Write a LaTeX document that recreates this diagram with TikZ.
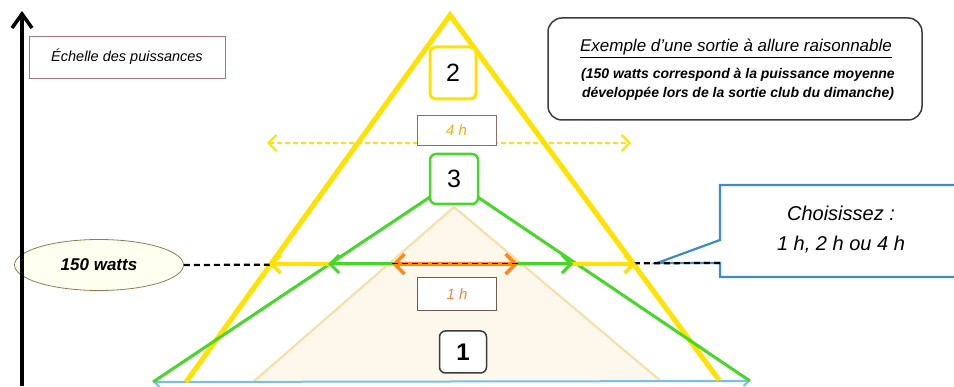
\documentclass[tikz,border=0pt]{standalone}
\usepackage{fontspec}
\setmainfont{Liberation Sans}
\usetikzlibrary{arrows.meta,shapes.geometric}
\definecolor{yel}{RGB}{255,226,0}
\definecolor{grn}{RGB}{70,215,40}
\definecolor{org}{RGB}{255,135,20}
\definecolor{beigefill}{RGB}{254,247,236}
\definecolor{beigeline}{RGB}{248,222,165}
\definecolor{baseblue}{RGB}{120,190,240}
\definecolor{callblue}{RGB}{60,140,200}
\definecolor{boxbrown}{RGB}{140,110,100}
\definecolor{ellfill}{RGB}{255,255,240}
\definecolor{txtyel}{RGB}{232,180,20}
\definecolor{txtorg}{RGB}{240,135,60}
\begin{document}
\begin{tikzpicture}[x=1pt,y=-1pt,
  numbox/.style={draw, rounded corners=6pt, fill=white, inner sep=0pt, font=\fontsize{25}{30}\selectfont},
  hbox/.style={draw=boxbrown, line width=0.8pt, fill=white, inner sep=0pt, minimum width=79pt, minimum height=30pt, font=\itshape\fontsize{15}{18}\selectfont},
  bothchev/.style={{Straight Barb[length=#1,width=2*#1]}-{Straight Barb[length=#1,width=2*#1]}},
  plain/.style={inner sep=0pt}
]
\useasboundingbox (0,0) rectangle (954,387);
% coordinates
\coordinate (ya) at (450,15);
\coordinate (yl) at (186,382);
\coordinate (yr) at (719,380);
\coordinate (ga) at (454,181);
\coordinate (gl) at (153,382);
\coordinate (gr) at (750,381);
\coordinate (ba) at (454,207);
\coordinate (bl) at (253,382);
\coordinate (br) at (662,382);
\coordinate (axb) at (22,386);
\coordinate (axt) at (22,11);
% beige triangle
\draw[beigeline, line width=2pt, fill=beigefill] (bl) -- (ba) -- (br);
% blue base
\draw[baseblue, line width=2pt, {Straight Barb[length=5pt,width=10pt]}-{Straight Barb[length=5pt,width=10pt]}] (gl) -- (gr);
% yellow triangle
\draw[yel, line width=5pt, line join=miter] (yl) -- (ya) -- (yr);
% green triangle
\draw[grn, line width=3pt] (gl) -- (ga) -- (gr);
% yellow dashed arrow
\coordinate (d4l) at (267,143);
\coordinate (d4r) at (631,143);
\draw[yel, line width=2pt, dash pattern=on 5pt off 3pt, bothchev=8pt] (d4l) -- (d4r);
\node[hbox, text=txtyel] (h4) at (456.5,130) {4 h};
% number boxes
\node[numbox, draw=yel, line width=3pt, minimum width=46pt, minimum height=52pt] (n2) at (453,73) {2};
\node[numbox, draw=grn, line width=2.5pt, minimum width=48pt, minimum height=50pt] (n3) at (454,179) {3};
% callout
\coordinate (cl) at (720,263);
\coordinate (ctip) at (657,263);
\draw[callblue, line width=2.2pt, fill=white] (962,185) -- (720,185) -- (720,240) -- (ctip) -- (cl) -- (720,277) -- (962,277);
\node[plain, font=\itshape\fontsize{20}{24}\selectfont] (c1) at (841,213) {Choisissez :};
\node[plain, font=\itshape\fontsize{20}{24}\selectfont] (c2) at (841,245) {1 h, 2 h ou 4 h};
% ellipse
\node[ellipse, draw={rgb,255:red,150;green,120;blue,80}, line width=0.8pt, fill=ellfill, minimum width=169pt, minimum height=51pt, inner sep=0pt, font=\bfseries\itshape\fontsize{17}{20}\selectfont] (w) at (99,265) {150 watts};
% black dashed line
\draw[black, line width=2.2pt, dash pattern=on 6pt off 4pt] (w.east) -- (cl);
% horizontal arrows
\coordinate (yal) at (269,264);
\coordinate (yar) at (636,264);
\coordinate (gal) at (328,264);
\coordinate (gar) at (573,264);
\coordinate (oal) at (392,264);
\coordinate (oar) at (518,264);
\draw[yel, line width=3.5pt, bothchev=9pt] (yal) -- (yar);
\draw[grn, line width=3pt, bothchev=9pt] (gal) -- (gar);
\draw[org, line width=3.5pt, bothchev=10pt] (oal) -- (oar);
\draw[black, line width=1pt, dash pattern=on 6pt off 4pt] (oal) -- (oar);
% 1 h box and box 1
\node[hbox, draw={rgb,255:red,110;green,90;blue,80}, minimum height=33pt, text=txtorg] (h1) at (457,294) {1 h};
\node[numbox, draw={rgb,255:red,60;green,60;blue,60}, line width=1.5pt, minimum width=47pt, minimum height=42pt, font=\bfseries\fontsize{24}{28}\selectfont] (n1) at (463,352) {1};
% axis
\draw[black, line width=3.5pt, -{Straight Barb[length=14pt,width=20pt]}] (axb) -- (axt);
% Echelle box
\node[draw={rgb,255:red,170;green,120;blue,120}, line width=0.8pt, fill=white, minimum width=196pt, minimum height=42pt, inner sep=0pt, font=\itshape\fontsize{14.5}{17}\selectfont] (ech) at (127,57) {Échelle des puissances};
% top-right box
\node[draw={rgb,255:red,60;green,60;blue,60}, line width=1.5pt, rounded corners=14pt, minimum width=374pt, minimum height=102pt, inner sep=0pt] (ex) at (735,69) {};
\node[plain, anchor=base, font=\itshape\fontsize{17}{20}\selectfont] (ex1) at (736,52) {\underline{Exemple d’une sortie à allure raisonnable}};
\node[plain, anchor=base, font=\bfseries\itshape\fontsize{14}{17}\selectfont] (ex2) at (738,79) {(150 watts correspond à la puissance moyenne};
\node[plain, anchor=base, font=\bfseries\itshape\fontsize{14}{17}\selectfont] (ex3) at (738,98) {développée lors de la sortie club du dimanche)};
\end{tikzpicture}
\end{document}
